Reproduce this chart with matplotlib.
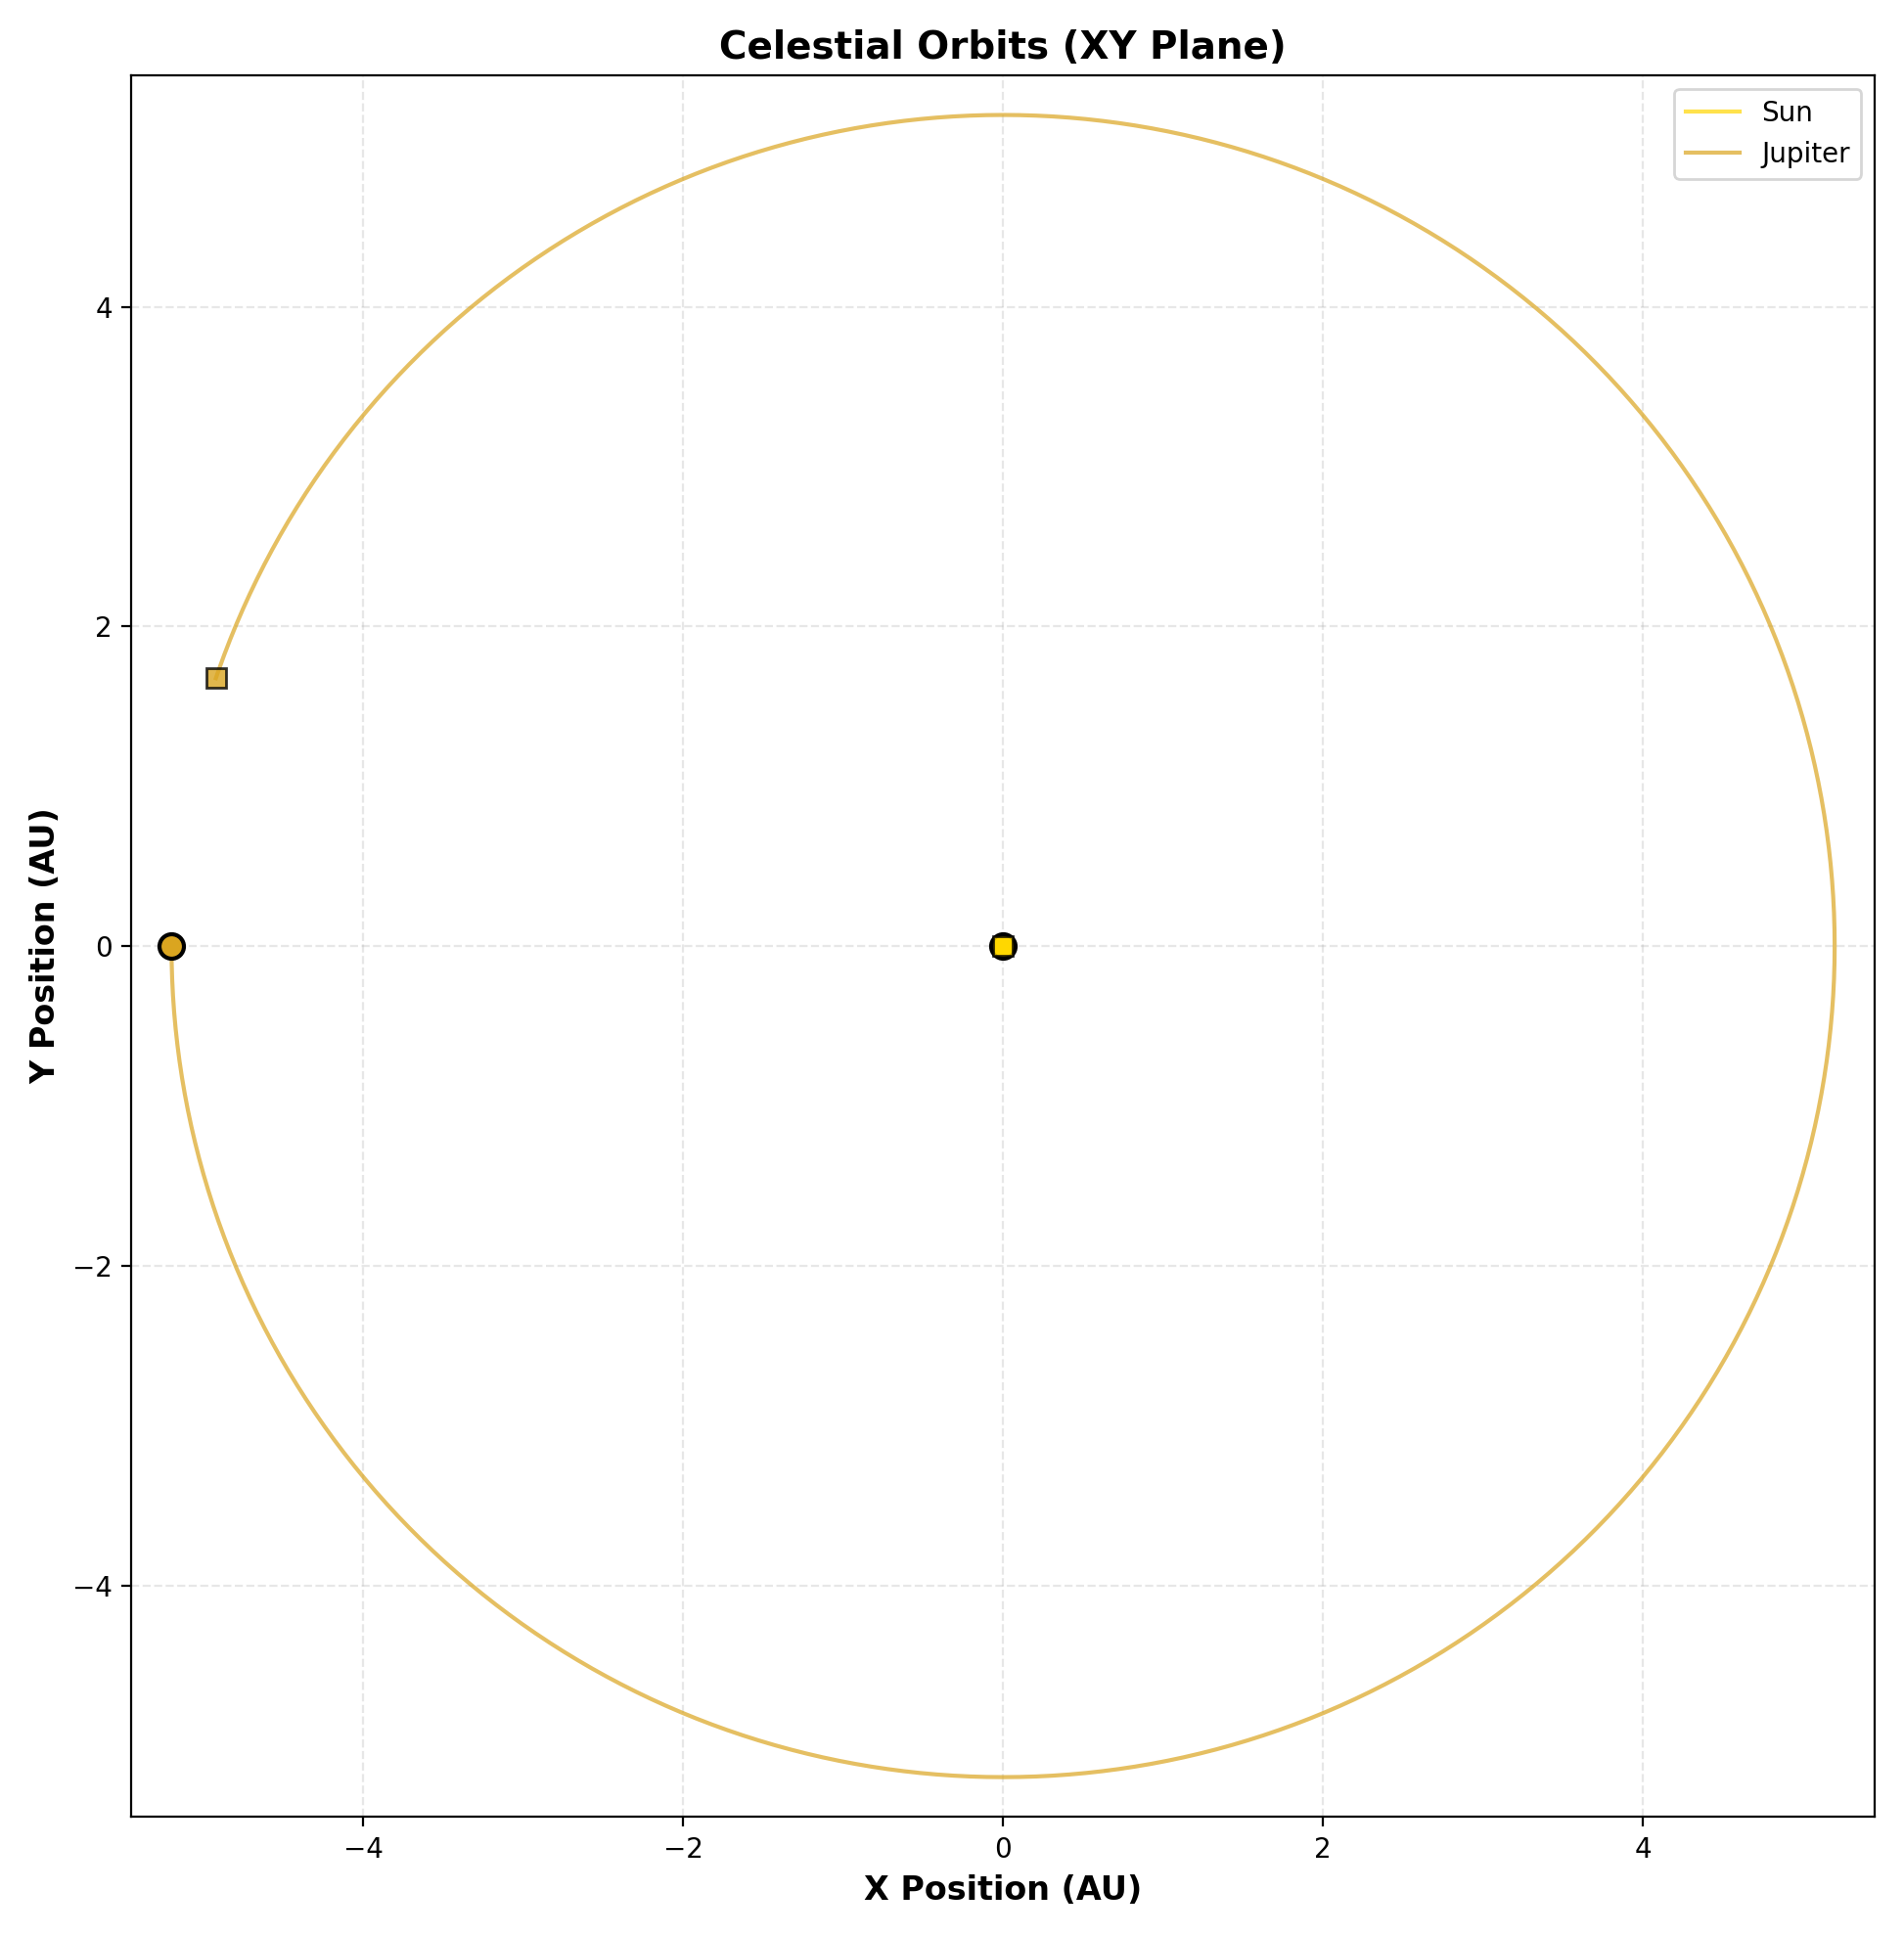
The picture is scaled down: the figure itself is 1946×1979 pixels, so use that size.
import numpy as np
import matplotlib
matplotlib.use("Agg")
import matplotlib.pyplot as plt

bodies = ["Sun", "Jupiter"]
colors = ["#FFD700", "#DAA520"]
orbit_radius_au = [0.0, 5.2]
start_angle_deg = [0.0, 180.0]
end_angle_deg = [0.0, 521.2]

fig, ax = plt.subplots(figsize=(9.73, 9.895), dpi=200)
for name, c, r, a0, a1 in zip(bodies, colors, orbit_radius_au, start_angle_deg, end_angle_deg):
    th = np.radians(np.linspace(a0, a1, 600))
    x, y = r * np.cos(th), r * np.sin(th)
    ax.plot(x, y, color=c, lw=1.5, alpha=0.7, label=name)
    ax.plot(x[0], y[0], 'o', color=c, ms=9, mec='black', mew=1.5)
    ax.plot(x[-1], y[-1], 's', color=c, ms=7, mec='black', mew=1, alpha=0.8)

ax.set_xlim(-5.45, 5.45)
ax.set_ylim(-5.45, 5.45)
ax.grid(True, linestyle='--', alpha=0.3)
ax.set_xlabel("X Position (AU)", fontsize=12, fontweight='bold')
ax.set_ylabel("Y Position (AU)", fontsize=12, fontweight='bold')
ax.set_title("Celestial Orbits (XY Plane)", fontsize=14, fontweight='bold')
ax.legend(loc='upper right')
fig.tight_layout()
fig.savefig("out.png")
